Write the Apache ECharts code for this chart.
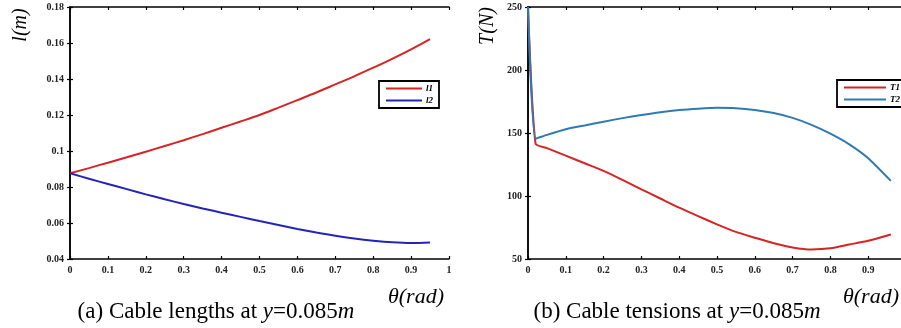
<!DOCTYPE html>
<html><head><meta charset="utf-8">
<script src="https://cdn.jsdelivr.net/npm/echarts@6/dist/echarts.min.js"></script>
<style>html,body{margin:0;padding:0;background:#fff}#c{width:901px;height:328px}</style>
</head><body><div id="c"></div>
<script>
// ---- data ----
const thetaL = [0,0.05,0.1,0.15,0.2,0.25,0.3,0.35,0.4,0.45,0.5,0.55,0.6,0.65,0.7,0.75,0.8,0.85,0.9,0.95];
const l1 = [0.0876,0.0905,0.0935,0.0965,0.0996,0.1028,0.1060,0.1094,0.1129,0.1164,0.1200,0.1241,0.1283,0.1325,0.1370,0.1415,0.1463,0.1512,0.1565,0.1622];
const l2 = [0.0876,0.0846,0.0817,0.0788,0.0759,0.0732,0.0706,0.0681,0.0657,0.0634,0.0611,0.0589,0.0567,0.0547,0.0529,0.0514,0.0502,0.0493,0.0489,0.0492];
const thetaT = [0,0.02,0.05,0.1,0.15,0.2,0.25,0.3,0.35,0.4,0.45,0.5,0.55,0.6,0.65,0.7,0.75,0.8,0.85,0.9,0.96];
const T1 = [250,141.5,138,132,126,120,112.8,105.3,98,90.7,84,77.5,71.5,66.9,62.5,59.2,57.6,58.5,61.5,64.5,69.5];
const T2 = [250,145.5,148.5,153,156,159,161.8,164.3,166.5,168.2,169.3,170,169.7,168.3,165.8,162,156.5,149.5,141,130,112];
const xTicks = {min:0, max:1, interval:0.1};
const yTicksL = {min:0.04, max:0.18, interval:0.02};
const yTicksR = {min:50, max:250, interval:50};
const legendL = ['l1','l2'];
const legendR = ['T1','T2'];

const pair = (xs, ys) => xs.map((x,i)=>[x, ys[i]]);
const serif = '"Liberation Serif","DejaVu Serif",serif';
const lbl = {fontFamily:serif, fontWeight:'bold', fontSize:10, color:'#222'};
const axLine = {show:true, lineStyle:{color:'#000', width:1.5}};
const tick = {show:true, inside:true, length:3, lineStyle:{color:'#000', width:1.2}};

function xAxes(grid, showMax){
  return [
    {type:'value', gridIndex:grid, ...xTicks, axisLine:axLine, axisTick:tick, splitLine:{show:false},
     axisLabel:{...lbl, margin:6, showMaxLabel:showMax}},
    {type:'value', gridIndex:grid, position:'top', ...xTicks, axisLine:axLine, axisTick:tick, splitLine:{show:false},
     axisLabel:{show:false}}
  ];
}
function yAxes(grid, t){
  return [
    {type:'value', gridIndex:grid, ...t, axisLine:axLine, axisTick:tick, splitLine:{show:false},
     axisLabel:{...lbl, margin:6}},
    {type:'value', gridIndex:grid, position:'right', ...t, axisLine:axLine, axisTick:tick, splitLine:{show:false},
     axisLabel:{show:false}}
  ];
}
const lineS = (name, data, color, xi, yi, smooth) => ({
  type:'line', name, data, xAxisIndex:xi, yAxisIndex:yi, symbol:'none', showSymbol:false,
  smooth,
  lineStyle:{color, width:2}, itemStyle:{color}, silent:true, animation:false
});
const legendBase = {orient:'vertical', backgroundColor:'#fff', borderColor:'#000', borderWidth:1.8,
  icon:'rect', itemHeight:2.2, itemGap:1, selectedMode:false,
  textStyle:{fontFamily:serif, fontStyle:'italic', fontWeight:'bold', fontSize:9, color:'#000', lineHeight:11, padding:[0,0,0,-1]}};

const capRich = {
  n:{fontFamily:serif, fontSize:23, color:'#000'},
  i:{fontFamily:serif, fontSize:23, fontStyle:'italic', color:'#000'}
};

const chart = echarts.init(document.getElementById('c'));
chart.setOption({
  animation:false,
  backgroundColor:'#fff',
  grid:[
    {left:70, top:7, width:379, height:252, show:false, outerBoundsMode:'none', containLabel:false},
    {left:528, top:7, width:378, height:252, show:false, outerBoundsMode:'none', containLabel:false}
  ],
  xAxis:[...xAxes(0, true), ...xAxes(1, false)],
  yAxis:[...yAxes(0, yTicksL), ...yAxes(1, yTicksR)],
  legend:[
    {...legendBase, data:legendL, left:379, top:81, itemWidth:36, padding:[2,6,2,7]},
    {...legendBase, data:legendR, left:837, top:80, itemWidth:42, padding:[2,10,2,7]}
  ],
  series:[
    lineS('l1', pair(thetaL,l1), '#d42424', 0, 0, 0.3),
    lineS('l2', pair(thetaL,l2), '#2424b8', 0, 0, 0.3),
    lineS('T1', pair(thetaT,T1), '#d42424', 2, 2, 0.2),
    lineS('T2', pair(thetaT,T2), '#2f7ab4', 2, 2, 0.2)
  ],
  graphic:[
    {type:'text', x:21, y:25, rotation:Math.PI/2, style:{text:'l(m)', font:'italic 20px '+serif, fill:'#000', align:'center', verticalAlign:'middle'}},
    {type:'text', x:488, y:26, rotation:Math.PI/2, style:{text:'T(N)', font:'italic 20px '+serif, fill:'#000', align:'center', verticalAlign:'middle'}},
    {type:'text', x:416, y:297, style:{text:'θ(rad)', font:'italic 22px '+serif, fill:'#000', align:'center', verticalAlign:'middle'}},
    {type:'text', x:871, y:297, style:{text:'θ(rad)', font:'italic 22px '+serif, fill:'#000', align:'center', verticalAlign:'middle'}},
    {type:'text', x:216, y:312, style:{text:'{n|(a) Cable lengths at }{i|y}{n|=0.085}{i|m}', rich:capRich, align:'center', verticalAlign:'middle'}},
    {type:'text', x:677, y:312, style:{text:'{n|(b) Cable tensions at }{i|y}{n|=0.085}{i|m}', rich:capRich, align:'center', verticalAlign:'middle'}}
  ]
});
</script>
</body></html>
